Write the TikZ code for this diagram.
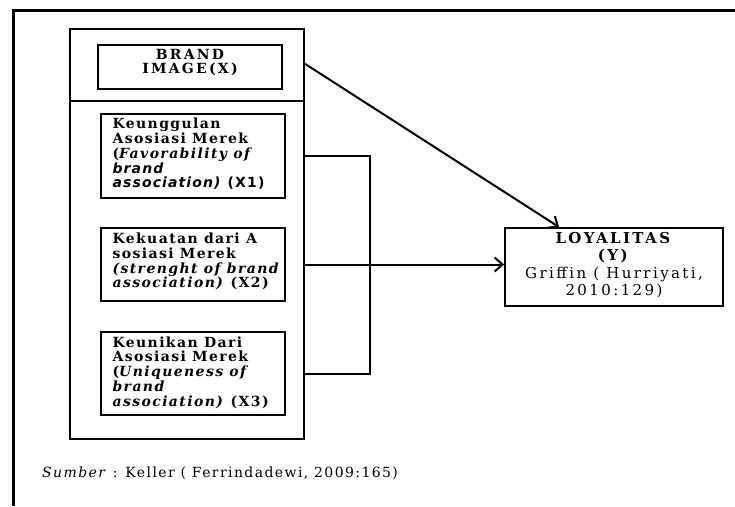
\documentclass[tikz,border=0pt]{standalone}
\usepackage{fontspec}
\setmainfont{DejaVu Serif}[LetterSpace=10]
\newfontfamily\sansw{DejaVu Sans}[LetterSpace=8]
\newfontfamily\widerserif{DejaVu Serif}[LetterSpace=16]
\usetikzlibrary{arrows.meta,calc}
\newcommand{\linesof}[2]{\begin{tabular}{@{}#1@{}}#2\end{tabular}}
\tikzset{
  frame/.style={line width=3pt},
  group/.style={draw, line width=2.2pt},
  box/.style={draw, line width=1.3pt},
  xbox/.style={box, minimum width=184pt},
  xtext/.style={anchor=west, inner sep=0pt, font=\fontsize{14}{14}\selectfont\bfseries},
  conn/.style={line width=2pt},
  arr/.style={conn, -{Straight Barb[length=8pt,width=14pt]}},
}
\begin{document}
\begin{tikzpicture}[x=1pt,y=-1pt]
\useasboundingbox (0,0) rectangle (735,506);
\fill[white] (0,0) rectangle (735,506);
% outer frame (partially visible)
\draw[frame] (13,506) -- (13,10) -- (735,10);
% group rectangle
\node[group, minimum width=234pt, minimum height=410pt] (grp) at (187,234) {};
\draw[group] (grp.west |- 0,101) -- (grp.east |- 0,101);
% brand image
\node[box, minimum width=184pt, minimum height=44pt] (bi) at (190,67) {};
\node[font=\widerserif\fontsize{14}{12.5}\selectfont\bfseries, inner sep=0pt] (bitxt) at (190,63)
  {\linesof{c}{BRAND\\IMAGE(X)}};
% dimensions
\node[xbox, minimum height=84pt] (x1) at (193,156) {};
\node[xtext] (x1t) at ($(x1.west)+(12,-1)$) {\linesof{l}{Keunggulan\\Asosiasi Merek\\(\textit{Favorability of}\\{\sansw\itshape brand}\\{\sansw\textit{association)} (X1)}}};
\node[xbox, minimum height=73pt] (x2) at (193,264.5) {};
\node[xtext] (x2t) at ($(x2.west)+(12,-2)$) {\linesof{l}{Kekuatan dari A\\sosiasi Merek\\\textit{(strenght of brand}\\\textit{association)} (X2)}};
\node[xbox, minimum height=83pt] (x3) at (193,373.5) {};
\node[xtext] (x3t) at ($(x3.west)+(12,0)$) {\linesof{l}{Keunikan Dari\\Asosiasi Merek\\(\textit{Uniqueness of}\\\textit{brand}\\\textit{association)} (X3)}};
% loyalitas
\node[box, line width=1.8pt, minimum width=218pt, minimum height=78pt] (loy) at (614,267) {};
\node[inner sep=0pt, font=\widerserif\fontsize{15}{17.5}\selectfont] (loyt) at ($(loy.center)+(0,-1)$)
  {\linesof{c}{\textbf{LOYALITAS}\\\textbf{(Y)}\\Griffin ( Hurriyati,\\2010:129)}};
% connectors
\draw[arr] ($(grp.north east)+(0,36)$) -- ($(loy.north west)+(55,0)$);
\draw[conn] (grp.east |- x1.east) -- ++(65,0) |- (grp.east |- x3.east);
\draw[arr] (grp.east |- x2.east) -- (x2.east -| loy.west);
% source
\node[anchor=base west, inner sep=0pt, font=\fontsize{14}{14}\selectfont] (src) at (42,477)
  {\textit{Sumber} : Keller ( Ferrindadewi, 2009:165)};
\end{tikzpicture}
\end{document}
